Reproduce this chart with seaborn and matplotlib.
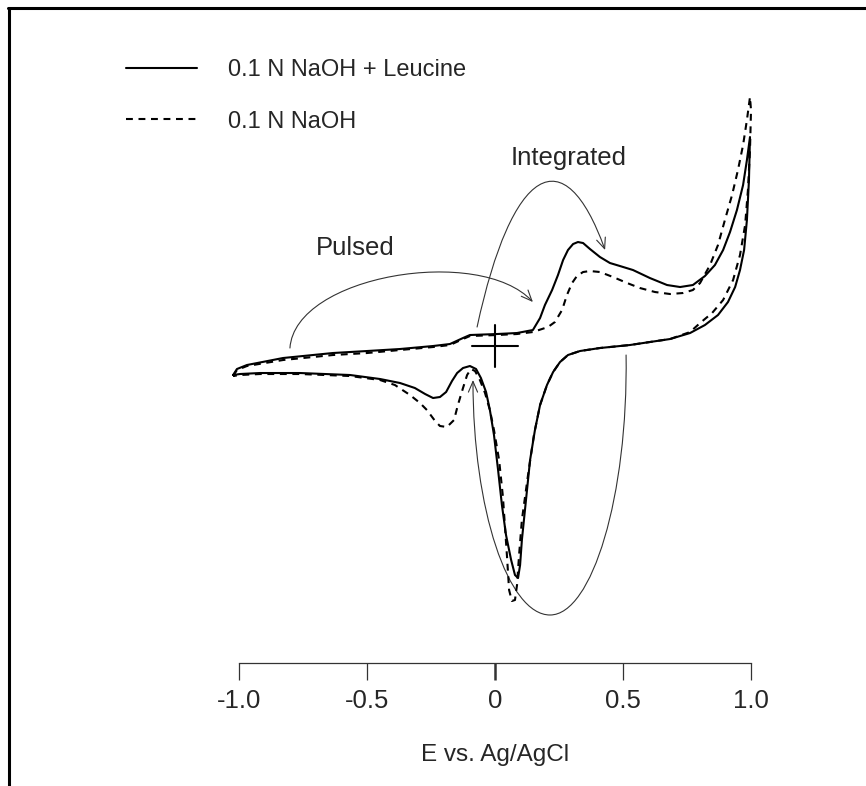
import numpy as np
import seaborn as sns
import matplotlib.pyplot as plt
from matplotlib.path import Path
from matplotlib.patches import FancyArrowPatch
from matplotlib.lines import Line2D

# %% veriler - E (V vs Ag/AgCl) ve akim (keyfi birim), dongu sirasiyla
E_leu = [-1.023, -1.008, -0.969, -0.828, -0.633, -0.5, -0.371, -0.242, -0.176, -0.125,
         -0.098, 0.008, 0.086, 0.148, 0.176, 0.195, 0.223, 0.246, 0.266, 0.285,
         0.305, 0.324, 0.344, 0.371, 0.41, 0.449, 0.488, 0.539, 0.605, 0.672,
         0.723, 0.773, 0.82, 0.859, 0.891, 0.918, 0.945, 0.969, 0.984, 0.996,
         0.992, 0.984, 0.973, 0.957, 0.938, 0.91, 0.871, 0.82, 0.762, 0.684,
         0.605, 0.527, 0.41, 0.332, 0.285, 0.254, 0.227, 0.203, 0.176, 0.156,
         0.137, 0.121, 0.105, 0.098, 0.09, 0.078, 0.063, 0.043, 0.027, 0.012,
         -0.004, -0.02, -0.035, -0.055, -0.074, -0.098, -0.125, -0.148, -0.168, -0.191,
         -0.215, -0.242, -0.273, -0.313, -0.371, -0.449, -0.566, -0.762, -0.918, -0.996,
         -1.023]
i_leu = [-2.9, -2.3, -1.9, -1.2, -0.7, -0.5, -0.3, 0.0, 0.2, 0.8,
         1.1, 1.2, 1.3, 1.6, 2.8, 4.1, 5.6, 7.1, 8.6, 9.6,
         10.2, 10.4, 10.3, 9.7, 8.9, 8.3, 8.0, 7.6, 6.8, 6.1,
         5.9, 6.1, 7.0, 8.1, 9.6, 11.4, 13.6, 16.1, 18.6, 20.9,
         16.6, 12.6, 9.6, 7.6, 5.9, 4.4, 3.1, 2.1, 1.3, 0.7,
         0.4, 0.1, -0.2, -0.5, -0.9, -1.6, -2.6, -3.9, -5.9, -8.4,
         -11.4, -15.4, -19.4, -21.9, -23.2, -22.9, -21.4, -18.9, -15.9, -12.4,
         -8.9, -6.4, -4.6, -3.2, -2.3, -2.0, -2.2, -2.7, -3.5, -4.6,
         -5.1, -5.2, -4.8, -4.2, -3.7, -3.3, -2.9, -2.7, -2.7, -2.8,
         -2.9]

E_naoh = [-1.023, -1.008, -0.969, -0.828, -0.633, -0.5, -0.371, -0.242, -0.176, -0.125,
          -0.098, 0.008, 0.086, 0.148, 0.207, 0.234, 0.262, 0.281, 0.301, 0.32,
          0.344, 0.371, 0.41, 0.461, 0.516, 0.566, 0.625, 0.684, 0.734, 0.773,
          0.801, 0.84, 0.871, 0.898, 0.926, 0.949, 0.969, 0.984, 0.996, 1.0,
          0.996, 0.988, 0.977, 0.957, 0.93, 0.891, 0.848, 0.801, 0.762, 0.684,
          0.605, 0.527, 0.41, 0.332, 0.285, 0.254, 0.227, 0.203, 0.176, 0.152,
          0.129, 0.105, 0.094, 0.086, 0.078, 0.066, 0.055, 0.047, 0.031, 0.016,
          -0.004, -0.02, -0.039, -0.059, -0.078, -0.094, -0.109, -0.125, -0.145, -0.16,
          -0.188, -0.215, -0.234, -0.266, -0.293, -0.332, -0.391, -0.449, -0.566, -0.762,
          -0.918, -0.996, -1.023]
i_naoh = [-3.0, -2.4, -2.0, -1.4, -0.9, -0.7, -0.4, -0.1, 0.1, 0.7,
          1.0, 1.1, 1.2, 1.4, 1.9, 2.4, 3.6, 5.1, 6.3, 7.0,
          7.4, 7.5, 7.4, 6.9, 6.3, 5.8, 5.4, 5.2, 5.3, 5.6,
          6.3, 8.1, 10.1, 12.6, 15.1, 17.6, 20.1, 22.6, 24.9, 23.6,
          19.6, 15.6, 12.1, 9.1, 6.6, 4.6, 3.3, 2.3, 1.4, 0.7,
          0.4, 0.1, -0.2, -0.5, -0.9, -1.6, -2.6, -3.9, -5.9, -8.9,
          -12.9, -17.4, -20.9, -23.9, -25.4, -25.5, -24.4, -21.1, -15.1, -11.4,
          -8.4, -6.4, -4.7, -3.4, -2.5, -2.3, -2.9, -4.2, -5.9, -7.4,
          -8.1, -8.0, -7.5, -6.4, -5.7, -4.9, -3.9, -3.4, -3.0, -2.8,
          -2.8, -2.9, -3.0]

xticks = [-1.0, -0.5, 0, 0.5, 1.0]
xtick_labels = ["-1.0", "-0.5", "0", "0.5", "1.0"]

# ok egrileri (Bezier kontrol noktalari, veri koordinatinda)
pulsed_E = [-0.801, -0.781, -0.059, 0.148]
pulsed_i = [-0.2, 7.1, 10.1, 4.4]
integ_E = [-0.07, 0.066, 0.27, 0.43]
integ_i = [1.9, 18.0, 21.0, 9.6]
loop_E = [0.512, 0.52, 0.379, 0.215, 0.051, -0.086, -0.086]
loop_i = [-0.9, -15.0, -26.9, -26.9, -26.9, -16.3, -3.4]

# %% grafik
sns.set_style("white")
plt.rcParams["font.family"] = ["Liberation Sans", "DejaVu Sans"]

fig = plt.figure(figsize=(8.66, 7.86), dpi=100)
ax = fig.add_axes([0.2612, 0.1565, 0.6208, 0.818])

sns.lineplot(x=E_leu, y=i_leu, sort=False, estimator=None, color="black",
             lw=1.5, label="0.1 N NaOH + Leucine", ax=ax)
sns.lineplot(x=E_naoh, y=i_naoh, sort=False, estimator=None, color="black",
             lw=1.5, linestyle=(0, (3.3, 2.7)), label="0.1 N NaOH", ax=ax)

ax.set_xlim(-1.05, 1.05)
ax.set_ylim(-31.7, 32.6)

# artı işareti (orijin)
ax.plot([-0.09, 0.09], [0, 0], color="black", lw=1.5)
ax.plot([0, 0], [2.1, -2.1], color="black", lw=1.5)

arrow_kw = dict(arrowstyle="->,head_length=0.7,head_width=0.3", mutation_scale=11,
                color="#333333", lw=0.8, clip_on=False)
for xs, ys in [(pulsed_E, pulsed_i), (integ_E, integ_i)]:
    p = Path(list(zip(xs, ys)), [Path.MOVETO, Path.CURVE4, Path.CURVE4, Path.CURVE4])
    ax.add_patch(FancyArrowPatch(path=p, **arrow_kw))
p = Path(list(zip(loop_E, loop_i)),
         [Path.MOVETO] + [Path.CURVE4] * 6)
ax.add_patch(FancyArrowPatch(path=p, **arrow_kw))

ax.text(0.289, 18.8, "Integrated", fontsize=18.5, ha="center", va="center")
ax.text(-0.547, 9.8, "Pulsed", fontsize=18.5, ha="center", va="center")

# eksen ayarları
for s in ["left", "right", "top"]:
    ax.spines[s].set_visible(False)
ax.spines["bottom"].set_bounds(-1, 1)
ax.spines["bottom"].set_color("#333333")
ax.spines["bottom"].set_linewidth(0.9)
ax.set_yticks([])
ax.set_xticks(xticks)
ax.set_xticklabels(xtick_labels, fontsize=18.5)
ax.tick_params(axis="x", direction="out", length=12, width=0.9, color="#333333",
               pad=7, bottom=True)
ax.xaxis.get_ticklines()[4].set_markeredgewidth(1.8)
ax.set_xlabel("E vs. Ag/AgCl", fontsize=17.5, labelpad=22)
ax.set_ylabel("")

ax.legend(loc="upper left", bbox_to_anchor=(126 / 866, 1 - 59 / 786),
          bbox_transform=fig.transFigure, frameon=False, fontsize=17,
          handlelength=3.0, handletextpad=1.3, labelspacing=1.25,
          borderpad=0, borderaxespad=0)

# çerçeve (sadece üst ve sol)
fig.add_artist(Line2D([8 / 866, 1], [1 - 8 / 786, 1 - 8 / 786], color="black", lw=2.2))
fig.add_artist(Line2D([9 / 866, 9 / 866], [1 - 8 / 786, 0], color="black", lw=2.2))

fig.savefig("out.png", dpi=100)
